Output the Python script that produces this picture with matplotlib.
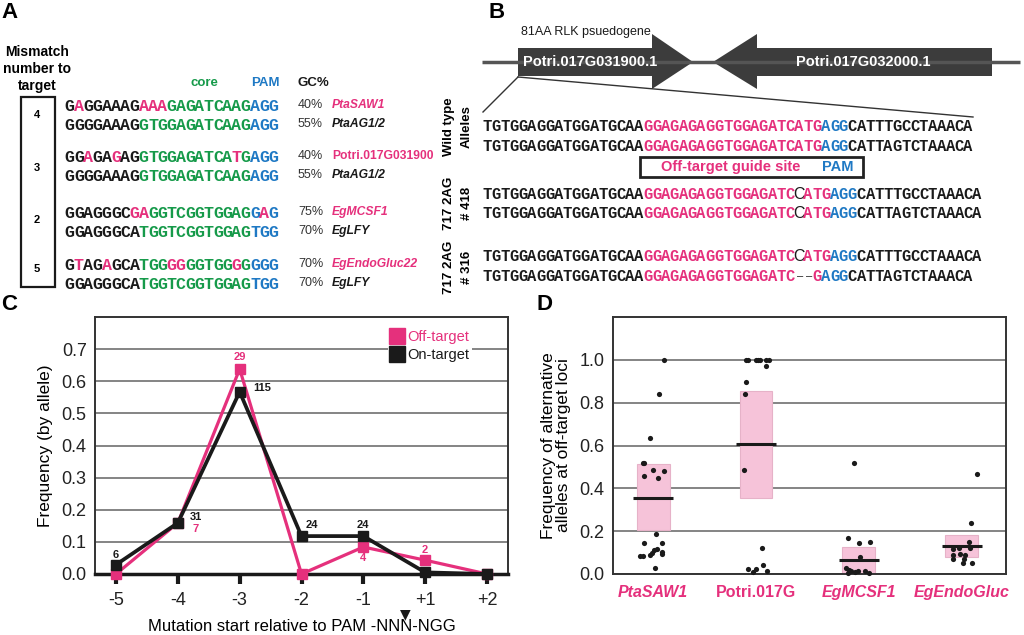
import matplotlib
matplotlib.use("Agg")
import matplotlib.pyplot as plt
from matplotlib.patches import Rectangle, Polygon
from matplotlib.lines import Line2D

plt.rcParams['font.family'] = ['Liberation Sans', 'DejaVu Sans']

PINK = '#e5307c'
GREEN = '#169a4a'
BLUE = '#1f79c4'
DARK = '#1a1a1a'

# ---------------- panel A data
A_SEQS = [
    "GAGGAAAGAAAGAGATCAAGAGG",
    "GGGGAAAGGTGGAGATCAAGAGG",
    "GGAGAGAGGTGGAGATCATGAGG",
    "GGGGAAAGGTGGAGATCAAGAGG",
    "GGAGGGCGAGGTCGGTGGAGGAG",
    "GGAGGGCATGGTCGGTGGAGTGG",
    "GTAGAGCATGGGGGGTGGGGGGG",
    "GGAGGGCATGGTCGGTGGAGTGG",
]
A_MISMATCH_POS = [[1, 8, 9, 10], [], [2, 5, 18], [], [7, 8, 21], [], [1, 4, 11, 12, 18], []]
A_GC = ["40%", "55%", "40%", "55%", "75%", "70%", "70%", "70%"]
A_GENES = ["PtaSAW1", "PtaAG1/2", "Potri.017G031900", "PtaAG1/2",
           "EgMCSF1", "EgLFY", "EgEndoGluc22", "EgLFY"]
A_GENE_OFF = [True, False, True, False, True, False, True, False]
A_GENE_ITALIC = [True, True, False, True, True, True, True, True]
A_MISMATCH_N = ["4", "3", "2", "5"]

# ---------------- panel B data
B_LEFT = "TGTGGAGGATGGATGCAA"
B_ROWS = [
    [(B_LEFT, 'k'), ("GGAGAGAGGTGGAGATCATG", 'p'), ("AGG", 'b'), ("CATTTGCCTAAACA", 'k')],
    [(B_LEFT, 'k'), ("GGAGAGAGGTGGAGATCATG", 'p'), ("AGG", 'b'), ("CATTAGTCTAAACA", 'k')],
    [(B_LEFT, 'k'), ("GGAGAGAGGTGGAGATC", 'p'), ("C", 'ins'), ("ATG", 'p'), ("AGG", 'b'), ("CATTTGCCTAAACA", 'k')],
    [(B_LEFT, 'k'), ("GGAGAGAGGTGGAGATC", 'p'), ("C", 'ins'), ("ATG", 'p'), ("AGG", 'b'), ("CATTAGTCTAAACA", 'k')],
    [(B_LEFT, 'k'), ("GGAGAGAGGTGGAGATC", 'p'), ("C", 'ins'), ("ATG", 'p'), ("AGG", 'b'), ("CATTTGCCTAAACA", 'k')],
    [(B_LEFT, 'k'), ("GGAGAGAGGTGGAGATC", 'p'), ("\u2013\u2013", 'del'), ("G", 'p'), ("AGG", 'b'), ("CATTAGTCTAAACA", 'k')],
]
B_GROUPS = [("Wild type", "Alleles"), ("717 2AG", "# 418"), ("717 2AG", "# 316")]
B_GENES = ["Potri.017G031900.1", "Potri.017G032000.1"]

# ---------------- panel C data
C_POS = ["-5", "-4", "-3", "-2", "-1", "+1", "+2"]
C_OFF = [0.0, 0.159, 0.638, 0.0, 0.084, 0.043, 0.0]
C_ON = [0.029, 0.159, 0.567, 0.118, 0.118, 0.005, 0.0]
C_OFF_N = [None, "7", "29", None, "4", "2", None]
C_ON_N = ["6", "31", "115", "24", "24", None, None]

# ---------------- panel D data
D_GROUPS = ["PtaSAW1", "Potri.017G", "EgMCSF1", "EgEndoGluc"]
D_BOX_LO = [0.205, 0.355, 0.0, 0.08]
D_BOX_HI = [0.515, 0.855, 0.124, 0.181]
D_MEAN = [0.355, 0.607, 0.064, 0.132]
D_VALS = [
    [1.0, 0.842, 0.637, 0.52, 0.52, 0.487, 0.479, 0.456, 0.448, 0.186, 0.143, 0.143,
     0.119, 0.112, 0.10, 0.089, 0.104, 0.093, 0.085, 0.085, 0.026],
    [1.0, 1.0, 1.0, 1.0, 1.0, 1.0, 1.0, 0.969, 0.895, 0.841, 0.486, 0.123, 0.043,
     0.023, 0.023, 0.008, 0.012],
    [0.517, 0.169, 0.145, 0.148, 0.078, 0.026, 0.019, 0.012, 0.008, 0.012, 0.016, 0.003, 0.005],
    [0.468, 0.237, 0.149, 0.118, 0.122, 0.122, 0.087, 0.095, 0.087, 0.07, 0.07, 0.05, 0.05],
]
D_JIT = [
    [0.11, 0.06, -0.03, -0.10, -0.09, 0.0, 0.11, -0.09, 0.05, 0.03, -0.085, 0.09,
     0.042, 0.013, -0.013, -0.03, 0.084, 0.09, -0.13, -0.10, 0.02],
    [-0.10, -0.08, 0.0, 0.02, 0.04, 0.097, 0.13, 0.10, -0.097, -0.107, -0.12, 0.058,
     0.071, -0.074, 0.0, -0.026, 0.107],
    [-0.05, -0.107, 0.0, 0.11, 0.013, -0.123, -0.097, -0.074, -0.042, -0.01, 0.055, 0.10, -0.107],
    [0.152, 0.094, 0.068, -0.084, -0.026, 0.084, -0.09, -0.02, 0.03, -0.084, 0.02, 0.013, 0.10],
]

fig = plt.figure(figsize=(10.24, 6.35), dpi=100)

# overlay in pixel coordinates for the diagram panels
ov = fig.add_axes([0, 0, 1, 1])
ov.set_xlim(0, 1024)
ov.set_ylim(635, 0)
ov.axis('off')

COLS = {'k': DARK, 'p': PINK, 'b': BLUE, 'g': GREEN}


def put_char(x, y, ch, col, size, kind='mono'):
    if kind == 'mono':
        ov.text(x, y, ch, color=col, fontsize=size, family='Liberation Mono',
                weight='bold', ha='center', va='center_baseline')
    else:
        ov.text(x, y, ch, color=col, fontsize=size, family='Liberation Sans',
                ha='center', va='center_baseline')


# panel letters
for lab, (x, y) in zip("ABCD", [(10, 12), (497, 12), (9, 305), (544, 304)]):
    ov.text(x, y, lab, fontsize=16, weight='bold', ha='center', va='center')

# ---------- A
for line, y in zip(["Mismatch", "number to", "target"], [52, 69, 86]):
    ov.text(37, y, line, fontsize=10, weight='bold', ha='center', va='center')
ov.add_patch(Rectangle((21, 97), 34, 190, fill=False, lw=1.6, ec=DARK))
for n, y in zip(A_MISMATCH_N, [115, 168, 220, 269]):
    ov.text(37, y, n, fontsize=8, weight='bold', ha='center', va='center')
ov.text(204, 83, "core", color=GREEN, fontsize=9.5, weight='bold', ha='center', va='center')
ov.text(265, 83, "PAM", color=BLUE, fontsize=9.5, weight='bold', ha='center', va='center')
ov.text(297, 83, "GC%", color=DARK, fontsize=9.5, weight='bold', ha='left', va='center')

A_Y = [105, 124, 156, 175, 212, 231, 264, 283]
A_CELL = 9.27
for r, seq in enumerate(A_SEQS):
    for i, ch in enumerate(seq):
        if i in A_MISMATCH_POS[r]:
            col = PINK
        elif i < 8:
            col = DARK
        elif i < 20:
            col = GREEN
        else:
            col = BLUE
        put_char(65 + (i + 0.5) * A_CELL, A_Y[r], ch, col, 12)
    ov.text(298, A_Y[r], A_GC[r], fontsize=9, color='#333333', ha='left', va='center')
    ov.text(332, A_Y[r], A_GENES[r], fontsize=8.7, weight='bold',
            style='italic' if A_GENE_ITALIC[r] else 'normal',
            color=PINK if A_GENE_OFF[r] else DARK, ha='left', va='center')

# ---------- B
ov.text(521, 32, "81AA RLK psuedogene", fontsize=9, ha='left', va='center', color=DARK)
ov.plot([482, 1020], [62, 62], color='#555555', lw=2.5, solid_capstyle='butt')
ov.add_patch(Polygon([(518, 48), (652, 48), (652, 34), (693, 62), (652, 89), (652, 76), (518, 76)],
                     closed=True, fc='#3c3c3c', ec='none'))
ov.add_patch(Polygon([(992, 48), (757, 48), (757, 34), (713, 62), (757, 89), (757, 76), (992, 76)],
                     closed=True, fc='#3c3c3c', ec='none'))
ov.text(590, 62, B_GENES[0], color='white', fontsize=10.5, weight='bold', ha='center', va='center')
ov.text(863, 62, B_GENES[1], color='white', fontsize=10.5, weight='bold', ha='center', va='center')
ov.plot([518, 483], [77, 112], color='#333333', lw=1)
ov.plot([518, 973], [77, 117], color='#333333', lw=1)

B_Y = [125, 145, 193, 212, 255, 275]
B_CELL = 8.9
for r, row in enumerate(B_ROWS):
    i = 0
    for txt, kind in row:
        for ch in txt:
            x = 483 + (i + 0.5) * B_CELL
            if kind == 'ins':
                put_char(x + 0.5, B_Y[r], ch, DARK, 11.5, kind='sans')
            elif kind == 'del':
                put_char(x + 1, B_Y[r], ch, DARK, 8, kind='sans')
            else:
                put_char(x, B_Y[r], ch, COLS[kind], 11.2)
            i += 1

ov.add_patch(Rectangle((640, 157), 223, 20, fill=False, lw=2, ec='#222222'))
ov.text(731, 167, "Off-target guide site", color=PINK, fontsize=10.5, weight='bold',
        ha='center', va='center')
ov.text(838, 167, "PAM", color=BLUE, fontsize=10.5, weight='bold', ha='center', va='center')

for (l1, l2), yc in zip(B_GROUPS, [127, 203, 267]):
    ov.text(449, yc, l1, rotation=90, fontsize=9.5, weight='bold', ha='center', va='center')
    ov.text(467, yc, l2, rotation=90, fontsize=9.5, weight='bold', ha='center', va='center')

# ---------- C
W, H = 1024, 635
axc = fig.add_axes([95 / W, 1 - 574 / H, (508 - 95) / W, (574 - 317) / H])
xs = list(range(len(C_POS)))
axc.plot(xs, C_OFF, color=PINK, lw=2.3, marker='s', ms=7, clip_on=False, zorder=4)
axc.plot(xs, C_ON, color=DARK, lw=2.7, marker='s', ms=7, clip_on=False, zorder=5)
axc.set_xlim(-0.34, 6.34)
axc.set_ylim(0, 0.8)
axc.set_yticks([0.0, 0.1, 0.2, 0.3, 0.4, 0.5, 0.6, 0.7])
axc.set_yticklabels(["0.0", "0.1", "0.2", "0.3", "0.4", "0.5", "0.6", "0.7"])
axc.set_xticks(xs)
axc.set_xticklabels(C_POS)
axc.tick_params(axis='y', length=0, labelsize=13, pad=6, labelcolor='#222222')
axc.tick_params(axis='x', direction='out', length=7, width=3, color=DARK, labelsize=13,
                pad=6, labelcolor='#222222')
axc.yaxis.grid(True, color='#707070', lw=1.2)
axc.set_axisbelow(True)
for s in ['left', 'top', 'right']:
    axc.spines[s].set_color('#333333')
    axc.spines[s].set_linewidth(1.4)
axc.spines['bottom'].set_color(DARK)
axc.spines['bottom'].set_linewidth(2.5)
axc.set_ylabel("Frequency (by allele)", fontsize=12.5, labelpad=6)
axc.set_xlabel("Mutation start relative to PAM -NNN-NGG", fontsize=12, labelpad=7)

on_off = [(0, 10), (18, 6), (23, 4), (10, 11), (0, 11), (0, 0), (0, 0)]
off_off = [(0, 0), (18, -6), (0, 12), (0, 0), (0, -11), (0, 10), (0, 0)]
for i in xs:
    if C_ON_N[i]:
        axc.annotate(C_ON_N[i], (i, C_ON[i]), xytext=on_off[i], textcoords='offset pixels',
                     fontsize=8, weight='bold', color=DARK, ha='center', va='center', zorder=6)
    if C_OFF_N[i]:
        axc.annotate(C_OFF_N[i], (i, C_OFF[i]), xytext=off_off[i], textcoords='offset pixels',
                     fontsize=8, weight='bold', color=PINK, ha='center', va='center', zorder=6)

handles = [Line2D([], [], color=PINK, marker='s', ls='none', ms=11),
           Line2D([], [], color=DARK, marker='s', ls='none', ms=11)]
leg = axc.legend(handles, ["Off-target", "On-target"], loc='upper right',
                 bbox_to_anchor=(0.93, 0.99), frameon=True, framealpha=1, edgecolor='none',
                 fancybox=False, fontsize=10.5, handlelength=0.8, handletextpad=0.3,
                 labelspacing=0.3, borderpad=0.2, labelcolor=[PINK, DARK])
leg.set_zorder(7)

ov.text(405, 614, "\u25BC", fontsize=10, ha='center', va='center', color=DARK,
        family='DejaVu Sans')

# ---------- D
axd = fig.add_axes([613 / W, 1 - 574 / H, (1006 - 613) / W, (574 - 317) / H])
gx = list(range(len(D_GROUPS)))
heights = [hi - lo for lo, hi in zip(D_BOX_LO, D_BOX_HI)]
axd.bar(gx, heights, bottom=D_BOX_LO, width=0.32, color='#f6c3d9', edgecolor='#e6b2c8',
        lw=0.8, zorder=2)
axd.hlines(D_MEAN, [g - 0.195 for g in gx], [g + 0.195 for g in gx], color=DARK, lw=2.2, zorder=3)
for g in gx:
    axd.scatter([g + j for j in D_JIT[g]], D_VALS[g], s=14, color=DARK, zorder=4,
                clip_on=False, lw=0)
axd.set_xlim(-0.39, 3.43)
axd.set_ylim(0, 1.2)
axd.set_yticks([0.0, 0.2, 0.4, 0.6, 0.8, 1.0])
axd.set_yticklabels(["0.0", "0.2", "0.4", "0.6", "0.8", "1.0"])
axd.set_xticks(gx)
axd.set_xticklabels(D_GROUPS)
for i, t in enumerate(axd.get_xticklabels()):
    t.set_color(PINK)
    t.set_fontweight('bold')
    t.set_fontsize(11.5)
    if i != 1:
        t.set_fontstyle('italic')
axd.tick_params(axis='y', length=0, labelsize=13, pad=6, labelcolor='#222222')
axd.tick_params(axis='x', length=0, pad=8)
axd.yaxis.grid(True, color='#707070', lw=1.2)
axd.set_axisbelow(True)
for s in axd.spines.values():
    s.set_color('#333333')
    s.set_linewidth(1.4)
axd.set_ylabel("Frequency of alternative\nalleles at off-target loci", fontsize=12.5,
               labelpad=6, linespacing=1.0)

fig.savefig("out.png", dpi=100)
